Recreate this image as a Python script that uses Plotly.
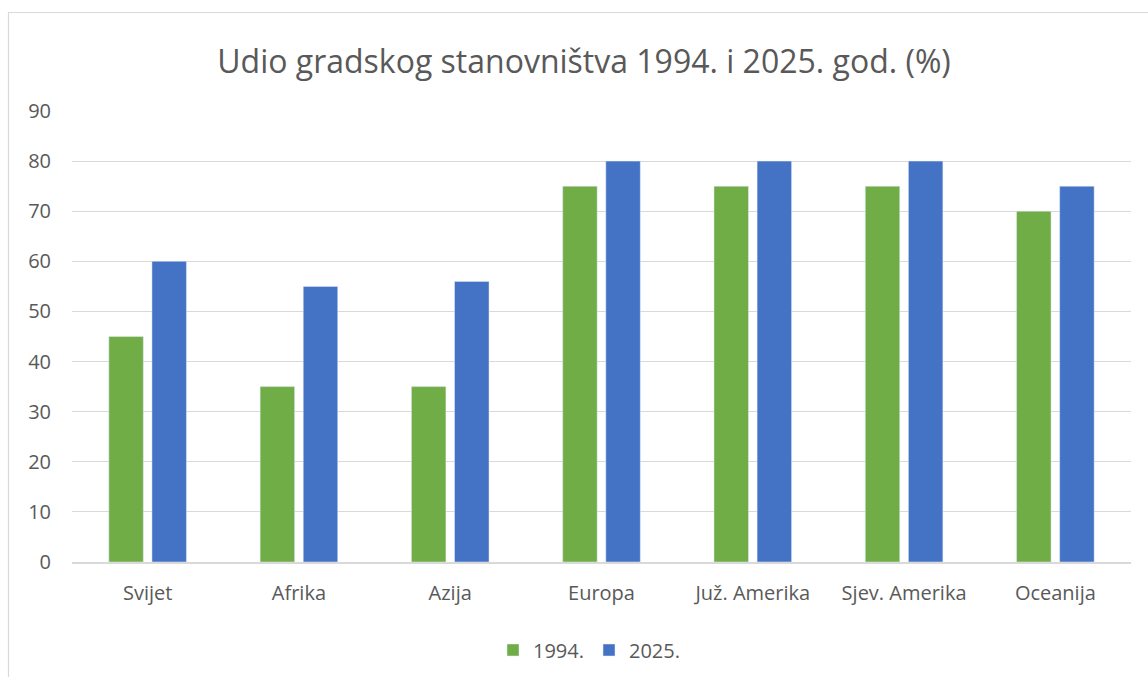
import plotly.graph_objects as go

categories = ["Svijet", "Afrika", "Azija", "Europa", "Juž. Amerika", "Sjev. Amerika", "Oceanija"]
values_1994 = [45, 35, 35, 75, 75, 75, 70]
values_2025 = [60, 55, 56, 80, 80, 80, 75]
series_names = ["1994.", "2025."]
y_ticks = list(range(0, 100, 10))

W, H = 1148, 677
L, R, T, B = 72, 17, 111, 115
pw, ph = W - L - R, H - T - B

def px_x(p):
    return (p - L) / pw

def px_y(p):
    return (H - B - p) / ph

FONT = "Open Sans"
TXT = "#595959"

fig = go.Figure()
fig.add_trace(go.Bar(x=categories, y=values_1994, name=series_names[0], marker_color="#70AD47"))
fig.add_trace(go.Bar(x=categories, y=values_2025, name=series_names[1], marker_color="#4472C4"))

fig.update_layout(
    width=W, height=H,
    margin=dict(l=L, r=R, t=T, b=B, autoexpand=False),
    paper_bgcolor="white", plot_bgcolor="white",
    barmode="group", bargap=0.43, bargroupgap=0.2,
    font=dict(family=FONT, color=TXT, size=20),
    title=dict(text="Udio gradskog stanovništva 1994. i 2025. god. (%)",
               x=584 / W, xanchor="center", y=1 - 62 / H, yanchor="middle",
               font=dict(size=32, color=TXT, family=FONT)),
    legend=dict(orientation="h", x=px_x(589), xanchor="center", y=px_y(650), yanchor="middle",
                font=dict(size=20, color=TXT), itemwidth=30, traceorder="normal"),
    xaxis=dict(showgrid=False, showline=True, linecolor="#D9D9D9", linewidth=1.5,
               ticks="", ticklabelstandoff=12, tickfont=dict(size=20, color=TXT), fixedrange=True,
               automargin=False),
    yaxis=dict(range=[0, 90], tickvals=y_ticks, showgrid=True, gridcolor="#D9D9D9", gridwidth=1.2,
               zeroline=False, showline=False, ticks="", ticklabelstandoff=20,
               tickfont=dict(size=20, color=TXT), automargin=False, fixedrange=True),
    shapes=[dict(type="rect", xref="paper", yref="paper",
                 x0=px_x(8.5), x1=px_x(1160), y0=px_y(12.5), y1=px_y(700),
                 line=dict(color="#D9D9D9", width=1.2), fillcolor="rgba(0,0,0,0)", layer="below")],
)

fig.write_html("out.html", config={"displayModeBar": False},
               post_script="document.body.style.margin='0';document.body.style.overflow='hidden';")
